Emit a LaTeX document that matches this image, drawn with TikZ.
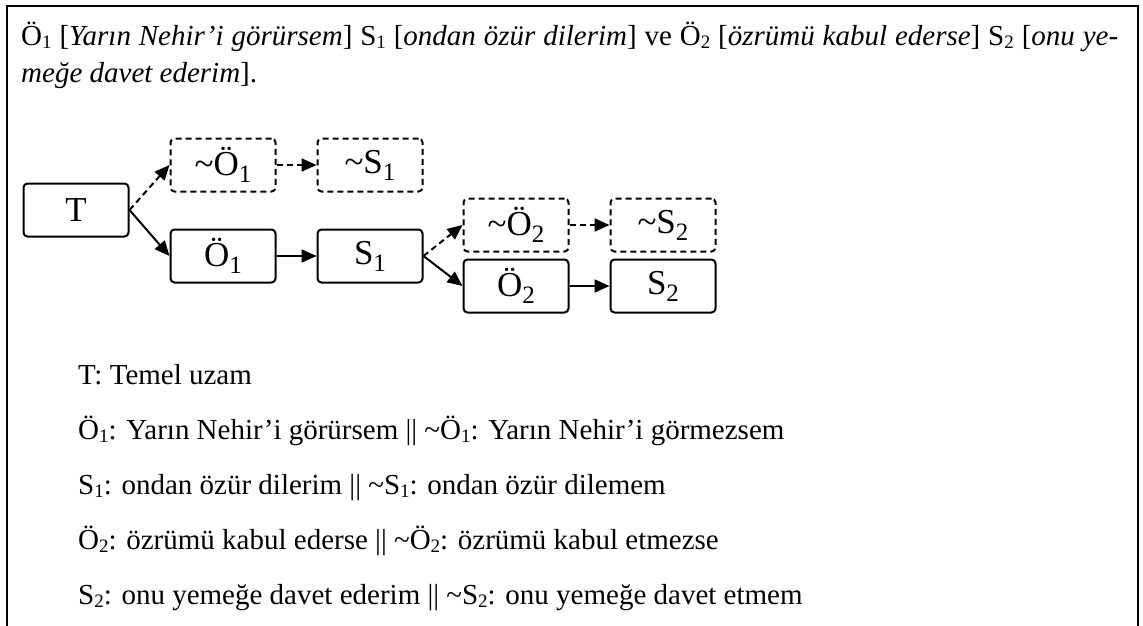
\documentclass[tikz,border=0pt]{standalone}
\usepackage{fontspec}
\setmainfont{Liberation Serif}
\usetikzlibrary{arrows.meta}

\newcommand{\ix}[1]{\raisebox{-7pt}{\fontsize{25}{25}\selectfont #1}}
\newcommand{\nt}{\textasciitilde}
\newcommand{\lx}[1]{\raisebox{-3pt}{\fontsize{19}{19}\selectfont #1}}

\tikzset{
  box/.style={draw, line width=2pt, rounded corners=4pt, minimum width=105pt,
    minimum height=53pt, inner sep=0pt, font=\fontsize{35}{35}\selectfont},
  nbox/.style={box, dashed, dash pattern=on 6pt off 4pt},
  yes/.style={line width=2pt, -{Triangle[length=15pt,width=13pt]}},
  no/.style={yes, dash pattern=on 6pt off 4pt},
  txt/.style={anchor=base west, inner sep=0pt, font=\fontsize{29}{29}\selectfont}
}

\begin{document}
\begin{tikzpicture}[x=1pt,y=-1pt]
\useasboundingbox (0,0) rectangle (1143,626);
\draw[line width=2.5pt] (7,626) -- (7,6) -- (1138,6) -- (1138,626);

% header
\node[anchor=north west, inner sep=0pt, text width=1097pt, align=justify,
  font=\fontsize{29}{37}\selectfont] (head) at (21,22)
  {Ö\lx{1} [\textit{Yarın Nehir’i görürsem}] S\lx{1} [\textit{ondan özür dilerim}]
   ve Ö\lx{2} [\textit{özrümü kabul ederse}] S\lx{2} [\textit{onu ye-}\linebreak
   \textit{meğe davet ederim}].};

% tree
\node[box] (t) at (76,210) {T};
\node[nbox] (no1) at (223,165) {\nt Ö\ix{1}};
\node[nbox] (ns1) at (370,165) {\nt S\ix{1}};
\node[box] (o1) at (223,256) {Ö\ix{1}};
\node[box] (s1) at (370,256) {S\ix{1}};
\node[nbox] (no2) at (516,225) {\nt Ö\ix{2}};
\node[nbox] (ns2) at (663,225) {\nt S\ix{2}};
\node[box] (o2) at (516,286) {Ö\ix{2}};
\node[box] (s2) at (663,286) {S\ix{2}};

\draw[no] (t.east) -- (no1.west);
\draw[yes] (t.east) -- (o1.west);
\draw[no] (no1) -- (ns1);
\draw[yes] (o1) -- (s1);
\draw[no] (s1.east) -- (no2.west);
\draw[yes] (s1.east) -- (o2.west);
\draw[no] (no2) -- (ns2);
\draw[yes] (o2) -- (s2);

% legend
\node[txt] (l0) at (78,384) {T: Temel uzam};
\node[txt] (l1) at (78,439) {Ö\lx{1}: Yarın Nehir’i görürsem || \nt Ö\lx{1}: Yarın Nehir’i görmezsem};
\node[txt] (l2) at (78,494) {S\lx{1}: ondan özür dilerim || \nt S\lx{1}: ondan özür dilemem};
\node[txt] (l3) at (78,549) {Ö\lx{2}: özrümü kabul ederse || \nt Ö\lx{2}: özrümü kabul etmezse};
\node[txt] (l4) at (78,604) {S\lx{2}: onu yemeğe davet ederim || \nt S\lx{2}: onu yemeğe davet etmem};
\end{tikzpicture}
\end{document}
